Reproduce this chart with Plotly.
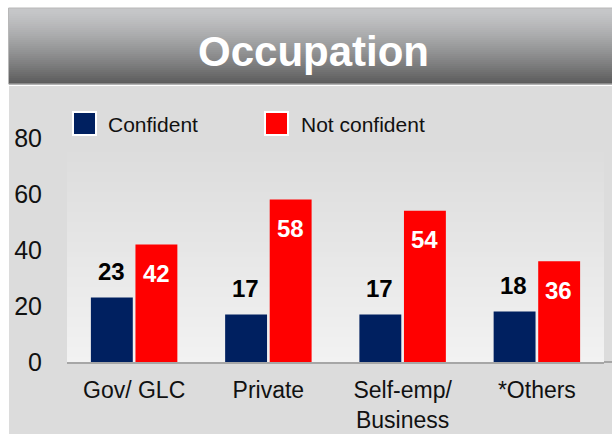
import plotly.graph_objects as go

categories = ["Gov/ GLC", "Private", "Self-emp/<br>Business", "*Others"]
confident = [23, 17, 17, 18]
not_confident = [42, 58, 54, 36]
series_names = ["Confident", "Not confident"]
y_ticks = [0, 20, 40, 60, 80]
title_text = "Occupation"

NAVY = "#002060"
RED = "#ff0000"
FONT = "Liberation Sans, Arial, sans-serif"

W, HT = 612, 434
L, R, T, B = 67, 8, 132, 72
PW = W - L - R
PH = HT - T - B


def px(x):
    return (x - L) / PW


def py(y):
    return (HT - B - y) / PH


def lerp(c1, c2, t):
    return "#%02x%02x%02x" % tuple(int(round(a + (b - a) * t)) for a, b in zip(c1, c2))


shapes = []
# gray panel
shapes.append(dict(type="rect", xref="paper", yref="paper", x0=px(9), x1=px(612), y0=py(86), y1=py(434),
                   fillcolor="#dcdcdc", line=dict(width=0), layer="below"))
# inner lighter gradient
n = 43
y_top, y_bot = 147, 362
for i in range(n):
    ya = y_top + (y_bot - y_top) * i / n
    yb = y_top + (y_bot - y_top) * (i + 1) / n + 0.5
    shapes.append(dict(type="rect", xref="paper", yref="paper", x0=px(67), x1=px(604), y0=py(yb), y1=py(ya),
                       fillcolor=lerp((220, 220, 220), (242, 242, 242), i / (n - 1)), line=dict(width=0), layer="below"))
# title banner gradient
n = 38
y_top, y_bot = 8, 84
for i in range(n):
    ya = y_top + (y_bot - y_top) * i / n
    yb = y_top + (y_bot - y_top) * (i + 1) / n + 0.5
    shapes.append(dict(type="rect", xref="paper", yref="paper", x0=px(9), x1=px(612), y0=py(yb), y1=py(ya),
                       fillcolor=lerp((198, 199, 201), (92, 92, 92), (i / (n - 1)) ** 1.3), line=dict(width=0), layer="below"))
shapes.append(dict(type="rect", xref="paper", yref="paper", x0=px(8.5), x1=px(613), y0=py(84), y1=py(8),
                   fillcolor="rgba(0,0,0,0)", line=dict(width=1, color="#b8b8b8"), layer="below"))
# axis line extension to right edge
shapes.append(dict(type="line", xref="paper", yref="paper", x0=1, x1=px(612), y0=0, y1=0,
                   line=dict(width=2, color="#a6a6a6")))
# legend squares
for x0, col in [(73, NAVY), (265, RED)]:
    shapes.append(dict(type="rect", xref="paper", yref="paper", x0=px(x0), x1=px(x0 + 23), y0=py(135), y1=py(112),
                       fillcolor=col, line=dict(width=2, color="white")))

annotations = []
annotations.append(dict(text="<b>" + title_text + "</b>", xref="paper", yref="paper", x=px(313), y=py(51),
                        showarrow=False, font=dict(family=FONT, size=42, color="white"),
                        xanchor="center", yanchor="middle"))
for x0, name in [(106, series_names[0]), (299, series_names[1])]:
    annotations.append(dict(text=name, xref="paper", yref="paper", x=px(x0), y=py(125), showarrow=False,
                            font=dict(family=FONT, size=21, color="#111111"), xanchor="left", yanchor="middle"))
for c, v in zip(categories, confident):
    annotations.append(dict(text="<b>%d</b>" % v, x=c, y=v, xref="x", yref="y", showarrow=False,
                            xshift=-23, yshift=26, yanchor="middle",
                            font=dict(family=FONT, size=24, color="black")))
for c, v in zip(categories, not_confident):
    annotations.append(dict(text="<b>%d</b>" % v, x=c, y=v, xref="x", yref="y", showarrow=False,
                            xshift=22, yshift=-29, yanchor="middle",
                            font=dict(family=FONT, size=24, color="white")))

fig = go.Figure()
fig.add_trace(go.Bar(name=series_names[0], x=categories, y=confident, marker=dict(color=NAVY, line=dict(width=0))))
fig.add_trace(go.Bar(name=series_names[1], x=categories, y=not_confident, marker=dict(color=RED, line=dict(width=0))))

fig.update_layout(
    width=W, height=HT, autosize=False,
    margin=dict(l=L, r=R, t=T, b=B, pad=0, autoexpand=False),
    paper_bgcolor="white",
    plot_bgcolor="rgba(0,0,0,0)",
    barmode="group", bargap=0.336, bargroupgap=0.06,
    showlegend=False,
    shapes=shapes,
    annotations=annotations,
    font=dict(family=FONT, color="black"),
    xaxis=dict(showline=True, linecolor="#a6a6a6", linewidth=2, showgrid=False, zeroline=False,
               ticks="", tickfont=dict(family=FONT, size=23, color="#111111"), ticklabelstandoff=6,
               automargin=False, fixedrange=True),
    yaxis=dict(range=[0, PH / 2.8], tickvals=y_ticks, showgrid=False, zeroline=False, showline=False,
               ticks="", tickfont=dict(family=FONT, size=25, color="#111111"), ticklabelstandoff=24,
               automargin=False, fixedrange=True),
)

post = ("document.body.style.margin='0';document.body.style.padding='0';"
        "document.body.style.overflow='hidden';"
        "var gd=document.getElementById('{plot_id}');"
        "Plotly.relayout(gd,{width:%d,height:%d});" % (W, HT))

fig.write_html("out.html", config={"responsive": False, "displayModeBar": False}, post_script=post)
